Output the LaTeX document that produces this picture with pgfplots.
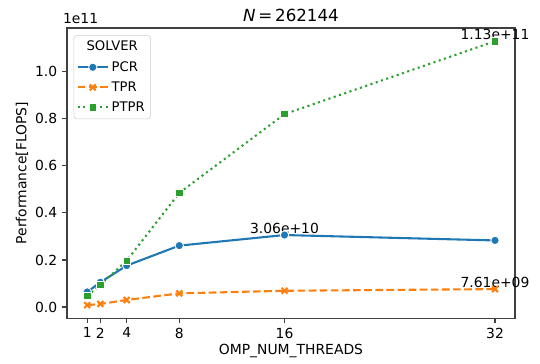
\documentclass[border=0pt]{standalone}
\usepackage{fontspec}
\setmainfont{DejaVu Sans}
\usepackage{pgfplots}
\pgfplotsset{compat=1.18}
\definecolor{cblue}{HTML}{1F77B4}
\definecolor{corange}{HTML}{FF7F0E}
\definecolor{cgreen}{HTML}{2CA02C}
\begin{document}
\begin{tikzpicture}
\begin{axis}[
  scale only axis, width=322.6pt, height=208.8pt,
  xmin=-0.54, xmax=33.52, ymin=-0.047, ymax=1.186,
  clip=false,
  xtick={1,2,4,8,16,32}, ytick={0,0.2,0.4,0.6,0.8,1.0},
  /pgf/number format/assume math mode=true,
  yticklabel style={/pgf/number format/.cd, fixed, fixed zerofill, precision=1},
  tick align=outside, tick pos=left, major tick length=3.5pt,
  tick style={black!75, line width=0.8pt},
  axis line style={black!75, line width=0.8pt},
  xlabel={OMP\_NUM\_THREADS}, ylabel={Performance[FLOPS]},
  xlabel style={yshift=3pt}, ylabel style={yshift=-2pt},
  legend style={at={(axis description cs:0.015,0.975)}, anchor=north west,
    draw=black!20, rounded corners=2pt, inner sep=2pt, row sep=2pt,
    cells={anchor=west}, font=\fontsize{9.5}{11}\selectfont},
  legend image code/.code={\draw[mark repeat=2,mark phase=2,#1] plot coordinates {(0cm,0cm) (0.38cm,0cm) (0.76cm,0cm)};},
]
\addlegendimage{empty legend}
\addlegendentry{\hspace{-18pt}SOLVER}
\addplot[cblue, line width=1.5pt, solid, mark=*, mark size=3pt, mark options={draw=white, line width=0.6pt, fill=cblue}]
  coordinates {(1,0.064) (2,0.105) (4,0.176) (8,0.261) (16,0.306) (32,0.283)};
\addlegendentry{PCR}
\addplot[corange, line width=1.5pt, dashed, dash pattern=on 5.5pt off 2.5pt, mark=x, mark size=3pt, mark options={solid, line width=1.5pt}]
  coordinates {(1,0.008) (2,0.013) (4,0.030) (8,0.058) (16,0.069) (32,0.0761)};
\addlegendentry{TPR}
\addplot[cgreen, line width=1.5pt, dash pattern=on 1.5pt off 2.5pt, mark=square*, mark size=2.7pt, mark options={solid, draw=white, line width=0.6pt, fill=cgreen}]
  coordinates {(1,0.047) (2,0.094) (4,0.197) (8,0.485) (16,0.82) (32,1.13)};
\addlegendentry{PTPR}
\node[anchor=base, inner sep=0pt, yshift=1pt] at (axis cs:16,0.306) {3.06e+10};
\node[anchor=base, inner sep=0pt, yshift=1pt] at (axis cs:32,0.0761) {7.61e+09};
\node[anchor=base, inner sep=0pt, yshift=1pt] at (axis cs:32,1.13) {1.13e+11};
\node[anchor=south west, inner sep=0pt, xshift=-3pt, yshift=3pt] at (rel axis cs:0,1) {1e11};
\node[anchor=south, inner sep=0pt, yshift=4.5pt, font=\fontsize{12}{14}\selectfont] at (rel axis cs:0.5,1) {\textit{N}\,=\,262144};
\end{axis}
\pgfresetboundingbox
\path ([shift={(-48.2pt,-32.4pt)}]current axis.south west) rectangle ([shift={(18pt,20.2pt)}]current axis.north east);
\end{tikzpicture}
\end{document}
